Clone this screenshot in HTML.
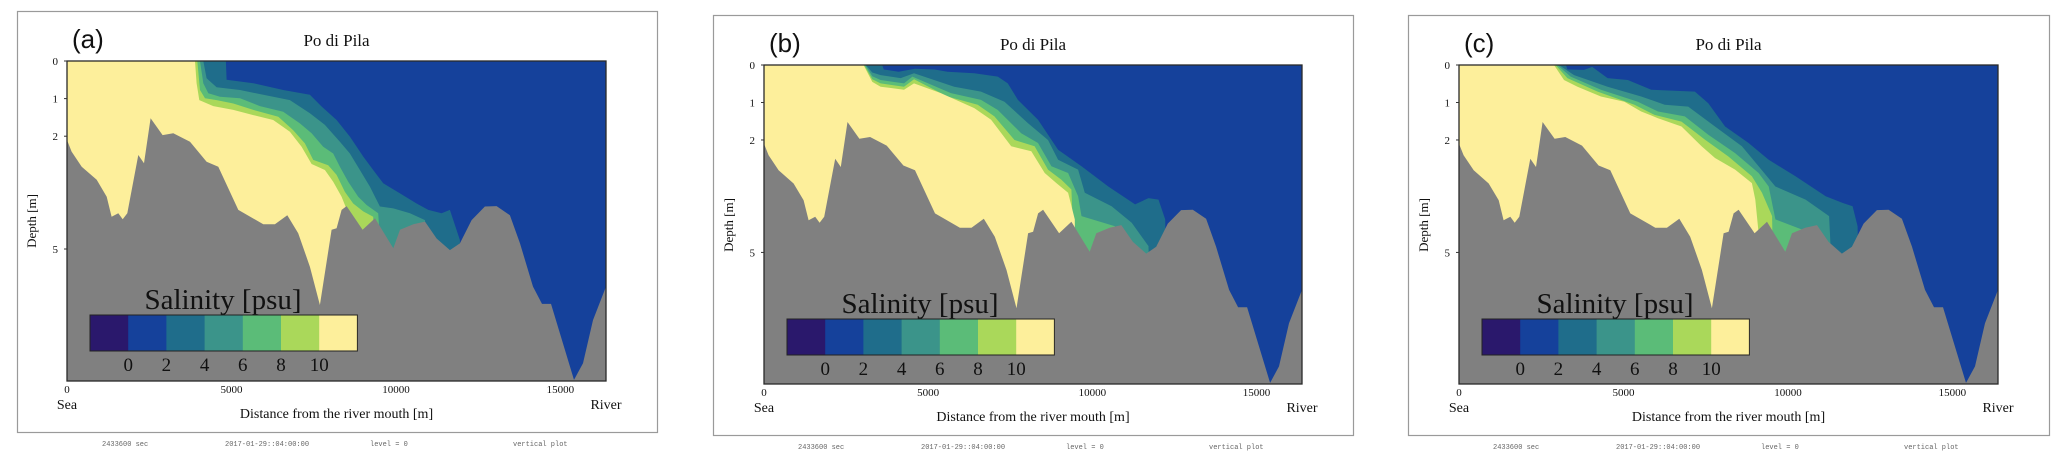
<!DOCTYPE html>
<html><head><meta charset="utf-8">
<style>
html,body{margin:0;padding:0;background:#fff;width:2067px;height:462px;overflow:hidden}
svg text{font-family:"Liberation Serif",serif;fill:#111}
</style></head>
<body>
<svg id="fig" width="2067" height="462" viewBox="0 0 2067 462" xmlns="http://www.w3.org/2000/svg"></svg>
<script>
// ---- data (distance [m], depth [m]) ----
const bathyX = [0,140,446,902,1206,1357,1560,1692,1834,2168,2340,2543,2907,3232,3738,4245,4600,5207,5967,6321,6696,7030,7385,7689,8044,8197,8349,8501,8987,9362,9919,10122,10527,10882,11236,11641,11945,12300,12705,13059,13465,13771,14166,14440,14714,15413,15686,15990,16386];
const bathyD = [2.1,2.41,2.81,3.16,3.61,4.14,4.05,4.21,4.05,2.5,2.72,1.52,1.97,1.92,2.15,2.68,2.81,3.96,4.34,4.34,4.1,4.58,5.47,6.49,4.49,4.45,3.96,3.86,4.49,4.18,4.98,4.49,4.34,4.27,4.72,5.03,4.85,4.23,3.87,3.86,4.1,4.85,6.0,6.46,6.46,8.48,8.04,6.89,6.0];

const xTicks = [0,5000,10000,15000];
const xTickLabels = ["0","5000","10000","15000"];
const yTicks = [0,1,2,5];
const yTickLabels = ["0","1","2","5"];
const cbarLabels = ["0","2","4","6","8","10"];
const bandColors = ["#2a186c","#15419b","#1f6d8b","#3b948a","#5bbc78","#aad85a","#fdef9b"];

// Panel (a) isohalines
const a_s2X=[4832,4853,5663,6574,7385,7739,8195,8601,9006,9310,9614,10122,10629,10983,11388,11641,11945,12000];
const a_s2D=[0,0.5,0.59,0.77,0.9,1.21,1.57,2.01,2.54,2.9,3.25,3.52,3.79,3.96,4.05,3.96,4.76,8.5];
const a_s4X=[4143,4245,4548,5258,5967,6777,7385,7841,8297,8601,8905,9209,9513,9919,10426,10882,11100];
const a_s4D=[0,0.46,0.7,0.77,0.9,1.04,1.39,1.7,2.15,2.46,2.9,3.34,3.87,3.92,4.05,4.23,8.5];
const a_s6X=[4042,4143,4295,4650,5258,5865,6574,7081,7435,7790,8094,8297,8550,8854,9107,9462,9800];
const a_s6D=[0,0.59,0.86,0.95,0.99,1.2,1.35,1.66,1.92,2.28,2.46,2.81,3.21,3.61,3.83,4.05,8.5];
const a_s8X=[3961,4042,4194,4548,5055,5663,6423,6878,7233,7486,7942,8195,8448,8702,9006,9310,9400];
const a_s8D=[0,0.77,0.99,1.04,1.13,1.3,1.48,1.84,2.19,2.63,2.77,3.03,3.48,3.79,4.0,4.14,8.5];
const a_s10X=[3890,3941,4022,4447,5055,5663,6270,6777,7132,7435,7841,8094,8347,8550,8600];
const a_s10D=[0,0.59,1.04,1.2,1.3,1.44,1.57,1.88,2.28,2.74,2.9,3.21,3.61,4.05,8.5];

// Panel (b) isohalines
const b_s2X=[3600,3650,4100,4600,5200,5590,6406,7120,7426,7732,8344,8956,9670,10486,11302,11710,12016,12220,12300];
const b_s2D=[0,0.12,0.18,0.1,0.12,0.18,0.22,0.31,0.49,0.93,1.46,2.26,2.7,3.24,3.72,3.55,3.59,4.12,8.5];
const b_s4X=[3100,3300,3550,4162,4570,5794,6610,7324,8038,8650,8956,9568,9772,10588,11200,11710,11800];
const b_s4D=[0,0.2,0.27,0.35,0.22,0.58,0.71,0.98,1.55,2.0,2.53,2.79,3.41,3.77,4.21,4.83,8.5];
const b_s6X=[3080,3300,3550,4264,4519,5692,6610,7120,7834,8344,8752,9262,9568,9670,10690,10900];
const b_s6D=[0,0.3,0.4,0.49,0.31,0.75,0.93,1.2,1.82,2.08,2.7,2.88,3.5,4.03,4.3,8.5];
const b_s8X=[3050,3300,3550,4264,4570,5590,6508,7018,7630,8242,8650,9058,9364,9600];
const b_s8D=[0,0.38,0.49,0.58,0.38,0.84,1.06,1.37,2.0,2.17,2.79,3.06,3.32,8.5];
const b_s10X=[3030,3300,3550,4264,4570,5386,6406,6916,7528,8140,8548,8905,9262,9466,9500];
const b_s10D=[0,0.45,0.58,0.66,0.49,0.75,1.15,1.46,2.17,2.3,2.88,3.15,3.41,4.12,8.5];

// Panel (c) isohalines
const c_s2X=[3250,3300,3800,4050,4519,5131,5845,7171,7579,8089,8803,9415,10231,11149,11659,11965,12118,12200];
const c_s2D=[0,0.12,0.13,0.05,0.35,0.4,0.66,0.71,1.02,1.64,2.08,2.53,2.97,3.5,3.68,3.77,4.3,8.5];
const c_s4X=[3040,3499,4519,5539,6253,6967,7783,8599,9109,9619,10537,11251,11500];
const c_s4D=[0,0.27,0.58,0.84,1.06,1.11,1.64,2.17,2.7,3.24,3.59,4.03,8.5];
const c_s6X=[2989,3397,4315,5437,6049,6865,7579,8395,9109,9415,9619,10435,10650];
const c_s6D=[0,0.31,0.66,0.98,1.24,1.37,1.86,2.35,2.88,3.24,4.12,4.39,8.5];
const c_s8X=[2938,3295,4213,5335,5947,6763,7477,8191,8905,9211,9517,9600];
const c_s8D=[0,0.35,0.71,1.06,1.33,1.51,1.99,2.44,2.97,3.41,4.03,8.5];
const c_s10X=[2887,3193,3601,4315,5029,5539,6049,6763,7375,7783,8395,8905,9007,9109,9150];
const c_s10D=[0,0.4,0.58,0.84,0.98,1.24,1.42,1.64,2.17,2.48,2.79,3.15,3.59,4.48,8.5];

const panelLabels = ["(a)","(b)","(c)"];
const footer = ["2433600 sec","2017-01-29::04:00:00","level = 0","vertical plot"];

// ---- layout ----
const XMAX = 16386, DMAX = 8.51;
const layouts = [
  {fx:17, fy:11, fw:640, fh:421, px:67, py:61, pw:539, ph:320, id:"a",
   iso:[[a_s2X,a_s2D],[a_s4X,a_s4D],[a_s6X,a_s6D],[a_s8X,a_s8D],[a_s10X,a_s10D]]},
  {fx:713, fy:15, fw:640, fh:420, px:764, py:65, pw:538, ph:319, id:"b",
   iso:[[b_s2X,b_s2D],[b_s4X,b_s4D],[b_s6X,b_s6D],[b_s8X,b_s8D],[b_s10X,b_s10D]]},
  {fx:1408, fy:15, fw:641, fh:420, px:1459, py:65, pw:539, ph:319, id:"c",
   iso:[[c_s2X,c_s2D],[c_s4X,c_s4D],[c_s6X,c_s6D],[c_s8X,c_s8D],[c_s10X,c_s10D]]}
];

const NS = "http://www.w3.org/2000/svg";
const svg = document.getElementById("fig");
function mk(tag, attrs, parent, text){
  const e = document.createElementNS(NS, tag);
  for (const k in attrs) e.setAttribute(k, attrs[k]);
  if (text !== undefined) e.textContent = text;
  (parent||svg).appendChild(e);
  return e;
}

layouts.forEach((L, pi) => {
  const xs = v => L.px + v / XMAX * L.pw;
  const ys = v => L.py + v / DMAX * L.ph;
  const g = mk("g", {});
  
  

  const frame = mk("rect", {x:L.fx+0.5, y:L.fy+0.5, width:L.fw, height:L.fh, fill:"#fff", stroke:"#9a9a9a", "stroke-width":1.2}, g);
  
  

  const cp = mk("clipPath", {id:"clip"+L.id}, g);
  mk("rect", {x:L.px, y:L.py, width:L.pw, height:L.ph}, cp);
  const plot = mk("g", {"clip-path":"url(#clip"+L.id+")"}, g);
  
  

  const bg = mk("rect", {x:L.px, y:L.py, width:L.pw, height:L.ph, fill:bandColors[1]}, plot);
  
  

  L.iso.forEach((arr, k) => {
    const X = arr[0], D = arr[1];
    let pts = [[xs(0), ys(0)]];
    for (let i = 0; i < X.length; i++) pts.push([xs(X[i]), ys(D[i])]);
    pts.push([xs(X[X.length-1]), ys(DMAX)]);
    pts.push([xs(0), ys(DMAX)]);
    const p = mk("polygon", {points: pts.map(q => q[0].toFixed(1)+","+q[1].toFixed(1)).join(" "), fill:bandColors[k+2]}, plot);
    
    
  });

  let bp = [[xs(0), ys(DMAX)]];
  for (let i = 0; i < bathyX.length; i++) bp.push([xs(bathyX[i]), ys(bathyD[i])]);
  bp.push([xs(XMAX), ys(bathyD[bathyD.length-1])]);
  bp.push([xs(XMAX), ys(DMAX)]);
  const bed = mk("polygon", {points: bp.map(q => q[0].toFixed(1)+","+q[1].toFixed(1)).join(" "), fill:"#808080"}, plot);
  
  

  const border = mk("rect", {x:L.px, y:L.py, width:L.pw, height:L.ph, fill:"none", stroke:"#2a2a2a", "stroke-width":1.3}, g);
  
  

  // colorbar
  const cbx = L.px + 23, cby = L.py + 254, cw = 38.2, chh = 36;
  const cbTitle = mk("text", {x: cbx + 133, y: cby - 6, "font-size": 29, "text-anchor":"middle"}, g, "Salinity [psu]");
  
  
  bandColors.forEach((c, i) => {
    const r = mk("rect", {x: cbx + i*cw, y: cby, width: cw+0.5, height: chh, fill: c}, g);
    
    
  });
  const cbb = mk("rect", {x: cbx, y: cby, width: cw*7, height: chh, fill:"none", stroke:"#222", "stroke-width":1}, g);
  
  
  cbarLabels.forEach((t, i) => {
    const tx = mk("text", {x: cbx + (i+1)*cw, y: cby + chh + 20, "font-size": 19, "text-anchor":"middle"}, g, t);
    
    
  });

  // axes ticks
  yTicks.forEach((v, i) => {
    const t = mk("text", {x: L.px - 9, y: ys(v) + 4, "font-size": 11, "text-anchor":"end"}, g, yTickLabels[i]);
    
    
    mk("line", {x1:L.px-3, x2:L.px, y1:ys(v), y2:ys(v), stroke:"#333"}, g);
  });
  xTicks.forEach((v, i) => {
    const t = mk("text", {x: xs(v), y: L.py + L.ph + 12, "font-size": 11, "text-anchor":"middle"}, g, xTickLabels[i]);
    
    
  });

  const title = mk("text", {x: L.px + L.pw/2, y: L.py - 15, "font-size": 17, "text-anchor":"middle"}, g, "Po di Pila");
  
  
  const pl = mk("text", {x: L.px + 5, y: L.py - 13, "font-size": 26, style:"font-family:'Liberation Sans',sans-serif"}, g, panelLabels[pi]);
  
  

  const yl = mk("text", {x: 0, y: 0, "font-size": 13, "text-anchor":"middle", transform:"translate("+(L.px-31)+","+(L.py+160)+") rotate(-90)"}, g, "Depth [m]");
  
  
  const xl = mk("text", {x: L.px + L.pw/2, y: L.py + L.ph + 37, "font-size": 14, "text-anchor":"middle"}, g, "Distance from the river mouth [m]");
  
  
  const sea = mk("text", {x: L.px, y: L.py + L.ph + 28, "font-size": 14, "text-anchor":"middle"}, g, "Sea");
  
  
  const river = mk("text", {x: L.px + L.pw, y: L.py + L.ph + 28, "font-size": 14, "text-anchor":"middle"}, g, "River");
  
  

  const fxs = [85, 208, 353, 496];
  footer.forEach((t, i) => {
    const f = mk("text", {x: L.fx + fxs[i], y: L.fy + L.fh + 14, "font-size": 7, style:"font-family:'Liberation Mono',monospace;fill:#666"}, g, t);
    
    
  });
});
</script>
</body></html>
